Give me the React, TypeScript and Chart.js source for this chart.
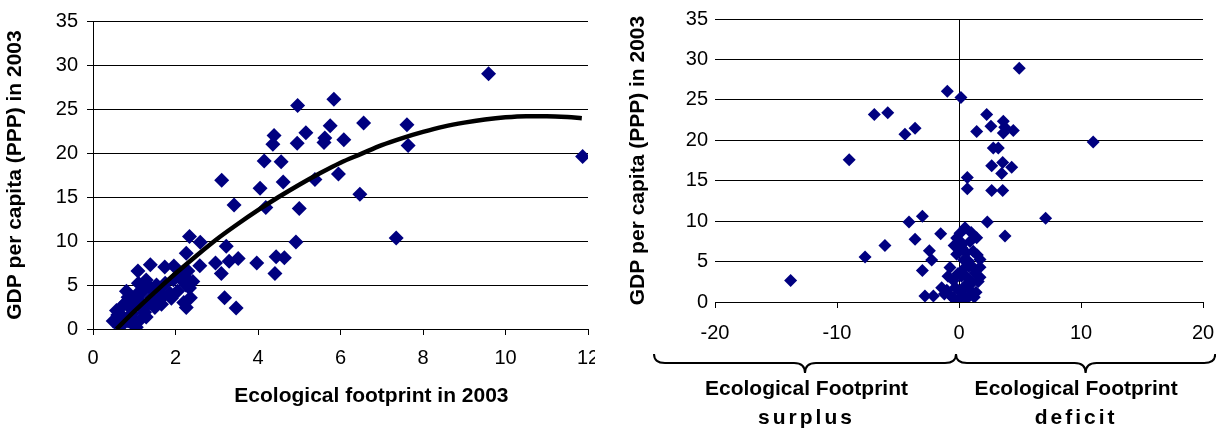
import React, { useEffect, useRef } from 'react';
import { Chart, registerables } from 'chart.js';

Chart.register(...registerables);

const FONT = "'Liberation Sans', Arial, Helvetica, sans-serif";

// ---------- Left chart: GDP vs ecological footprint ----------
const footprintX = [
  9.59, 11.87, 7.35, 7.61, 7.64, 6.56, 6.47, 5.84, 5.75, 5.95, 6.08, 5.62, 5.6, 5.38, 5.16, 4.96, 4.95, 5.0, 4.92,
  4.56, 4.61, 4.64, 4.39, 4.36, 4.15, 4.05, 4.19, 4.44, 4.41, 3.97, 3.12, 3.42, 3.23, 3.52, 3.3, 2.97, 3.11, 3.19,
  3.47, 2.34, 2.6, 2.26, 2.59, 2.18, 2.3, 2.12, 2.34, 2.36, 2.26, 2.42, 1.09, 1.39, 1.74, 1.96, 1.29, 1.54, 1.86,
  1.7, 1.5, 0.81, 1.05, 1.21, 0.97, 0.57, 0.49, 0.73, 1.13, 1.05, 1.29, 0.89, 0.65, 1.21, 1.66, 1.9, 1.41, 0.6,
  0.75, 0.85, 0.95, 1.0, 1.15, 0.7, 0.85, 0.9, 1.3, 1.45, 1.6, 1.75, 2.05, 2.2, 2.3, 1.1, 0.8, 1.25, 0.95, 1.55,
  1.35, 1.95, 2.25,
];
const gdpLeft = [
  29.0, 19.6, 10.35, 23.2, 20.85, 23.4, 15.3, 26.1, 23.1, 17.6, 21.5, 21.7, 21.2, 17.0, 22.3, 25.4, 21.1, 13.7, 9.9,
  19.0, 16.7, 8.1, 22.0, 21.0, 19.1, 16.0, 13.8, 8.2, 6.3, 7.5, 16.9, 14.1, 9.4, 8.0, 7.7, 7.5, 6.3, 3.56,
  2.39, 10.5, 9.87, 8.6, 7.2, 6.1, 5.6, 5.7, 4.66, 3.56, 2.45, 5.4, 6.6, 7.3, 7.05, 7.15, 5.57, 5.0, 4.1,
  3.7, 2.45, 4.3, 3.9, 4.3, 3.2, 2.1, 0.9, 1.35, 1.0, 0.2, 1.35, 2.45, 0.2, 2.3, 2.8, 3.5, 3.56, 1.6,
  2.8, 3.6, 1.8, 2.6, 3.1, 0.6, 0.9, 1.4, 2.7, 4.4, 4.5, 5.2, 4.3, 3.0, 6.6, 5.2, 3.0, 1.9, 0.6, 3.2,
  4.9, 5.6, 5.0,
];
// Trend line
const trendX = [0.57, 1, 1.5, 2, 2.5, 3, 3.5, 4, 4.5, 5, 5.5, 6, 6.5, 7, 7.5, 8, 8.5, 9, 9.5, 10, 10.5, 11, 11.5, 11.85];
const trendY = [0, 2.0, 4.2, 6.3, 8.3, 10.2, 11.9, 13.5, 15.0, 16.4, 17.7, 18.9, 19.9, 20.9, 21.7, 22.4, 23.0, 23.45, 23.8, 24.05, 24.18, 24.19, 24.09, 23.95];

const LEFT_X_TITLE = 'Ecological footprint in 2003';
const Y_TITLE = 'GDP per capita (PPP) in 2003';

// ---------- Right chart: GDP vs footprint surplus / deficit ----------
const balanceX = [
  -13.8, -9.0, -7.7, -6.07, -6.94, -5.84, -4.43, -3.6, -4.1, -3.0, -3.6, -3.0, -1.5, -2.43, -2.24, -2.79, -2.1,
  -1.42, -0.74, -0.46, -0.96, 0.16, 4.94, 2.27, 1.45, 2.62, 3.63, 3.63, 4.45, 3.75, 2.81, 3.22, 2.68, 3.58, 4.32,
  3.5, 0.68, 0.68, 2.68, 3.58, 11.0, 7.1, 2.32, 3.77, -1.0, 0.49, 1.45, 1.72, 1.58, 0.9, -0.19, 0.08, 0.22, 1.72,
  1.72, -0.19, -0.46, -0.6, 0.35, 0.9, 0.63, 1.17, 0.76, 1.17, 0.9, 0.3, 0.5, 0.1, -0.3, 0.2, 1.3, 1.1, 0.6, 0.4,
  -0.1, 1.4, 0.0, 0.8, 0.3, 1.0, 1.5, -0.4, 0.55, 1.25, -1.2, -0.9,
];
const gdpRight = [
  2.65, 17.6, 5.55, 7.0, 23.2, 23.4, 20.75, 21.5, 9.9, 10.6, 7.76, 3.9, 8.45, 6.35, 5.2, 0.74, 0.74,
  1.75, 4.26, 0.5, 26.05, 25.3, 28.9, 23.2, 21.1, 21.75, 22.35, 20.9, 21.2, 21.6, 19.06, 19.06, 16.85, 17.25, 16.65,
  15.9, 15.4, 14.0, 13.8, 13.8, 19.8, 10.37, 9.9, 8.17, 1.45, 9.17, 7.96, 5.27, 2.53, 0.84, 7.9, 8.5, 6.7, 4.3,
  3.05, 5.9, 2.65, 0.64, 0.64, 1.45, 3.05, 4.26, 5.07, 6.27, 7.48, 4.0, 2.0, 1.2, 1.8, 3.2, 3.6, 2.4, 6.1, 5.2,
  3.5, 1.2, 0.3, 4.4, 7.2, 8.6, 5.8, 7.0, 0.3, 0.6, 1.0, 3.2,
];

const BRACES = [
  { from: -25, to: 0, labelAt: -12.5, lines: ['Ecological Footprint', 'surplus'] },
  { from: 0, to: 21, labelAt: 9.6, lines: ['Ecological Footprint', 'deficit'] },
];

const MARKER = '#000080';

const noSidePadding = (s: any) => {
  s.paddingLeft = 0;
  s.paddingRight = 0;
};

const leftTitlePlugin = {
  id: 'leftXTitle',
  afterDraw(chart: any) {
    const ctx = chart.ctx;
    const xs = chart.scales.x;
    ctx.save();
    ctx.font = `bold 21px ${FONT}`;
    ctx.fillStyle = '#000';
    ctx.textAlign = 'center';
    ctx.textBaseline = 'middle';
    ctx.fillText(LEFT_X_TITLE, xs.getPixelForValue(6.75), 396);
    ctx.restore();
  },
};

const bracePlugin = {
  id: 'braces',
  afterDraw(chart: any) {
    const ctx = chart.ctx;
    const xs = chart.scales.x;
    ctx.save();
    ctx.strokeStyle = '#000';
    ctx.lineWidth = 2;
    const yTop = 354;
    const yLine = 363;
    const yTip = 373;
    const r = 11;
    BRACES.forEach((b) => {
      const x1 = xs.getPixelForValue(b.from) + (b.from === 0 ? -3 : 0);
      const x2 = xs.getPixelForValue(b.to) + (b.to === 0 ? -3 : 0);
      const xm = (x1 + x2) / 2;
      ctx.beginPath();
      ctx.moveTo(x1, yTop);
      ctx.quadraticCurveTo(x1, yLine, x1 + r, yLine);
      ctx.lineTo(xm - r, yLine);
      ctx.quadraticCurveTo(xm, yLine, xm, yTip);
      ctx.quadraticCurveTo(xm, yLine, xm + r, yLine);
      ctx.lineTo(x2 - r, yLine);
      ctx.quadraticCurveTo(x2, yLine, x2, yTop);
      ctx.stroke();
      const cx = xs.getPixelForValue(b.labelAt);
      ctx.fillStyle = '#000';
      ctx.textAlign = 'center';
      ctx.textBaseline = 'middle';
      ctx.font = `bold 21px ${FONT}`;
      (ctx as any).letterSpacing = '0px';
      ctx.fillText(b.lines[0], cx, 389);
      (ctx as any).letterSpacing = '3px';
      ctx.fillText(b.lines[1], cx, 418);
      (ctx as any).letterSpacing = '0px';
    });
    ctx.restore();
  },
};

function LeftChart() {
  const ref = useRef<HTMLCanvasElement>(null);
  useEffect(() => {
    const chart = new Chart(ref.current as HTMLCanvasElement, {
      type: 'scatter',
      data: {
        datasets: [
          {
            type: 'line',
            data: trendX.map((x, i) => ({ x, y: trendY[i] })),
            borderColor: '#000',
            borderWidth: 4.5,
            pointRadius: 0,
            cubicInterpolationMode: 'monotone',
            fill: false,
            order: 0,
          } as any,
          {
            data: footprintX.map((x, i) => ({ x, y: gdpLeft[i] })),
            pointStyle: 'rectRot',
            pointRadius: 7.5,
            backgroundColor: MARKER,
            borderColor: MARKER,
            borderWidth: 0,
            order: 1,
          },
        ],
      },
      options: {
        animation: false,
        responsive: false,
        devicePixelRatio: 1,
        layout: { autoPadding: false, padding: { top: 11, right: 7, left: 0, bottom: 0 } },
        plugins: { legend: { display: false }, tooltip: { enabled: false } },
        scales: {
          x: {
            type: 'linear',
            min: 0,
            max: 12,
            ticks: { stepSize: 2, color: '#000', font: { family: FONT, size: 20 }, padding: 11 },
            grid: { drawOnChartArea: false, drawTicks: true, tickLength: 6, color: '#000' },
            border: { display: true, color: '#000' },
            afterFit: (s: any) => {
              s.height = 103;
              noSidePadding(s);
            },
          },
          y: {
            type: 'linear',
            min: 0,
            max: 35,
            ticks: { stepSize: 5, color: '#000', font: { family: FONT, size: 20 }, padding: 9 },
            grid: { color: '#000', tickLength: 6 },
            border: { display: true, color: '#000' },
            title: {
              display: true,
              text: Y_TITLE,
              color: '#000',
              font: { family: FONT, size: 21, weight: 'bold' },
              padding: { top: 3, bottom: 0 },
            },
            afterFit: (s: any) => {
              s.width = 93;
            },
          },
        },
      },
      plugins: [leftTitlePlugin],
    } as any);
    return () => chart.destroy();
  }, []);
  return <canvas ref={ref} width={595} height={432} style={{ display: 'block' }} />;
}

function RightChart() {
  const ref = useRef<HTMLCanvasElement>(null);
  useEffect(() => {
    const chart = new Chart(ref.current as HTMLCanvasElement, {
      type: 'scatter',
      data: {
        datasets: [
          {
            data: balanceX.map((x, i) => ({ x, y: gdpRight[i] })),
            pointStyle: 'rectRot',
            pointRadius: 6.5,
            backgroundColor: MARKER,
            borderColor: MARKER,
            borderWidth: 0,
          },
        ],
      },
      options: {
        animation: false,
        responsive: false,
        devicePixelRatio: 1,
        layout: { autoPadding: false, padding: { top: 12, right: 13, left: 0, bottom: 0 } },
        plugins: { legend: { display: false }, tooltip: { enabled: false } },
        scales: {
          x: {
            type: 'linear',
            min: -20,
            max: 20,
            ticks: { stepSize: 10, color: '#000', font: { family: FONT, size: 20 }, padding: 13 },
            grid: {
              drawOnChartArea: true,
              drawTicks: true,
              tickLength: 6,
              tickColor: '#000',
              color: (c: any) => (c.tick && c.tick.value === 0 ? '#000' : 'rgba(0,0,0,0)'),
            },
            border: { display: true, color: '#000' },
            afterFit: (s: any) => {
              s.height = 130;
              noSidePadding(s);
            },
          },
          y: {
            type: 'linear',
            min: 0,
            max: 35,
            ticks: { stepSize: 5, color: '#000', font: { family: FONT, size: 20 }, padding: 7 },
            grid: { color: '#000', drawTicks: false },
            border: { display: false },
            title: {
              display: true,
              text: Y_TITLE,
              color: '#000',
              font: { family: FONT, size: 21, weight: 'bold' },
              padding: { top: 18, bottom: 0 },
            },
            afterFit: (s: any) => {
              s.width = 107;
            },
          },
        },
      },
      plugins: [bracePlugin],
    } as any);
    return () => chart.destroy();
  }, []);
  return <canvas ref={ref} width={608} height={432} style={{ display: 'block' }} />;
}

export default function App() {
  return (
    <div
      style={{
        position: 'fixed',
        left: 0,
        top: 0,
        width: 1216,
        height: 432,
        background: '#fff',
        overflow: 'hidden',
      }}
    >
      <div style={{ position: 'absolute', left: 0, top: 0 }}>
        <LeftChart />
      </div>
      <div style={{ position: 'absolute', left: 608, top: 0 }}>
        <RightChart />
      </div>
    </div>
  );
}
